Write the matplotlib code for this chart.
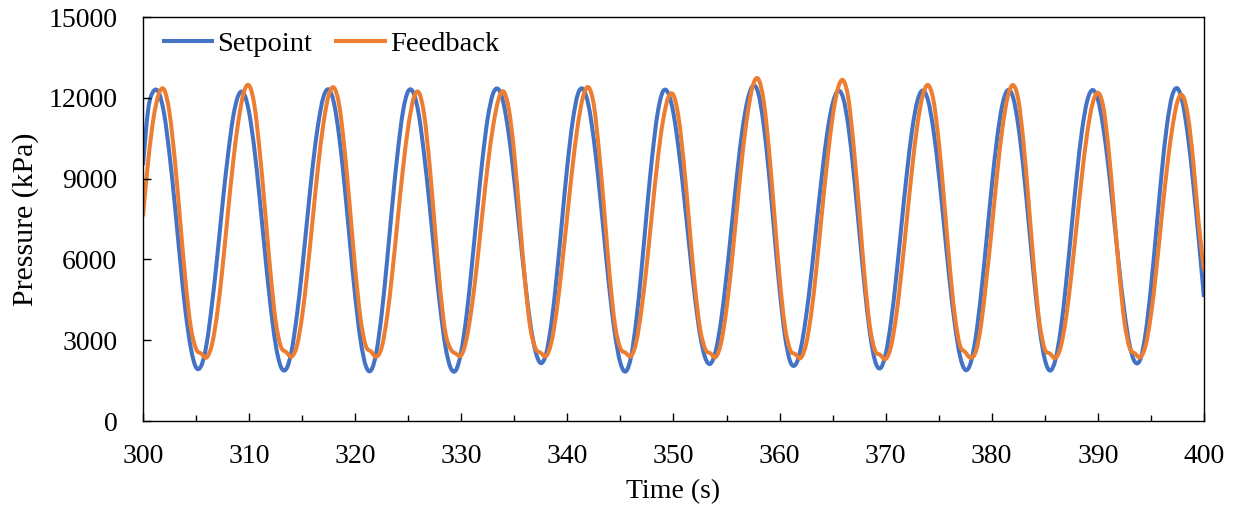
"""Pressure setpoint vs feedback, 300-400 s window."""

import matplotlib
import numpy as np

matplotlib.use("Agg")
import matplotlib.pyplot as plt
from matplotlib.lines import Line2D
from matplotlib.patches import PathPatch
from matplotlib.path import Path
from matplotlib.ticker import MultipleLocator

C_SET, C_FB = "#4472C4", "#ED7D31"

# samples every 0.5 s from 300 s to 400 s
t_start, t_step = 300.0, 0.5

setpoint_kpa = [
    9500, 11600, 12250, 12180, 11390, 9900, 8030, 5980, 4100, 2730,
    1990, 2060, 2870, 4320, 6100, 8060, 9840, 11290, 12100, 12170,
    11460, 10100, 8260, 6240, 4360, 2850, 2010, 1930, 2590, 3900,
    5630, 7580, 9470, 10990, 12020, 12310, 11810, 10540, 8750, 6650,
    4640, 3020, 2050, 1880, 2560, 3980, 5920, 8030, 9950, 11480,
    12250, 12180, 11370, 9890, 8070, 6080, 4260, 2780, 1970, 1890,
    2590, 3930, 5780, 7800, 9720, 11260, 12160, 12320, 11760, 10580,
    8930, 7060, 5230, 3640, 2580, 2150, 2500, 3640, 5390, 7450,
    9490, 11130, 12150, 12320, 11710, 10430, 8690, 6700, 4770, 3190,
    2150, 1840, 2380, 3750, 5660, 7840, 9840, 11410, 12230, 12180,
    11420, 10060, 8340, 6450, 4670, 3220, 2340, 2130, 2630, 3760,
    5400, 7290, 9180, 10820, 11940, 12450, 12170, 11010, 9190, 7020,
    4900, 3190, 2210, 2090, 2690, 3880, 5490, 7350, 9150, 10720,
    11780, 12260, 11990, 10900, 9170, 7110, 5050, 3320, 2230, 1960,
    2480, 3670, 5350, 7310, 9200, 10820, 11900, 12270, 11900, 10820,
    9210, 7280, 5320, 3650, 2430, 1900, 2140, 3140, 4730, 6690,
    8710, 10480, 11740, 12280, 12030, 10970, 9330, 7290, 5240, 3460,
    2290, 1870, 2270, 3390, 5090, 7080, 9070, 10770, 11890, 12290,
    11940, 10930, 9420, 7600, 5720, 4060, 2810, 2190, 2290, 3260,
    4930, 7020, 9140, 10940, 12070, 12350, 11800, 10550, 8790, 6780,
    4600,
]

feedback_kpa = [
    7600, 9700, 11260, 12160, 12300, 11440, 9700, 7460, 5230, 3500,
    2680, 2500, 2360, 2840, 4000, 5710, 7700, 9620, 11150, 12200,
    12460, 11730, 10020, 7850, 5580, 3720, 2760, 2560, 2390, 2780,
    3890, 5560, 7510, 9430, 11020, 12090, 12380, 11710, 10080, 7930,
    5660, 3820, 2790, 2580, 2390, 2730, 3840, 5500, 7450, 9350,
    10920, 11970, 12200, 11380, 9570, 7240, 4960, 3290, 2670, 2500,
    2440, 3050, 4260, 5880, 7740, 9510, 10940, 11930, 12230, 11540,
    9910, 7570, 5250, 3480, 2690, 2530, 2410, 2930, 4120, 5790,
    7660, 9490, 11030, 12070, 12390, 11720, 9960, 7700, 5330, 3540,
    2700, 2530, 2410, 2940, 4180, 5860, 7800, 9660, 11120, 12000,
    12100, 11220, 9480, 7270, 5080, 3450, 2670, 2510, 2380, 2920,
    4170, 5910, 7930, 9890, 11440, 12480, 12700, 11890, 10090, 7720,
    5340, 3520, 2640, 2480, 2340, 2850, 4030, 5760, 7750, 9660,
    11280, 12350, 12650, 11940, 10140, 7840, 5420, 3540, 2620, 2450,
    2300, 2760, 3910, 5580, 7490, 9400, 11020, 12100, 12475, 11920,
    10400, 8230, 5920, 3970, 2810, 2560, 2350, 2580, 3580, 5270,
    7130, 9140, 10860, 12030, 12475, 11940, 10300, 8010, 5610, 3650,
    2670, 2500, 2340, 2750, 3820, 5420, 7260, 9110, 10700, 11780,
    12190, 11690, 10140, 7920, 5590, 3700, 2710, 2510, 2370, 2800,
    3920, 5570, 7500, 9330, 10830, 11860, 12080, 11300, 9610, 7365,
    5600,
]

time_s = t_start + t_step * np.arange(len(setpoint_kpa))


def smooth_line(ax, x, y, color, lw):
    """Excel-style smoothed line: cubic Bezier segments through every sample."""
    x = np.asarray(x, float)
    y = np.asarray(y, float)
    px = np.concatenate([[x[0]], x, [x[-1]]])
    py = np.concatenate([[y[0]], y, [y[-1]]])
    verts = [(x[0], y[0])]
    codes = [Path.MOVETO]
    for i in range(len(x) - 1):
        j = i + 1
        c1 = (x[i] + (px[j + 1] - px[j - 1]) / 6, y[i] + (py[j + 1] - py[j - 1]) / 6)
        c2 = (x[i + 1] - (px[j + 2] - px[j]) / 6, y[i + 1] - (py[j + 2] - py[j]) / 6)
        verts += [c1, c2, (x[i + 1], y[i + 1])]
        codes += [Path.CURVE4] * 3
    patch = PathPatch(Path(verts, codes), fill=False, edgecolor=color, lw=lw,
                      joinstyle="round", capstyle="butt")
    ax.add_patch(patch)


plt.rcParams["font.family"] = ["Liberation Serif", "DejaVu Serif"]
plt.rcParams["font.size"] = 20

fig = plt.figure(figsize=(12.39, 5.05), dpi=100)
ax = fig.add_axes([0.1154, 0.1663, 0.8563, 0.800])

smooth_line(ax, time_s, setpoint_kpa, C_SET, 2.9)
smooth_line(ax, time_s, feedback_kpa, C_FB, 2.9)

ax.set_xlim(300, 400)
ax.set_ylim(0, 15000)
ax.xaxis.set_major_locator(MultipleLocator(10))
ax.xaxis.set_minor_locator(MultipleLocator(5))
ax.yaxis.set_major_locator(MultipleLocator(3000))
ax.tick_params(axis="x", which="major", direction="in", length=6, width=1.0, pad=16.5)
ax.tick_params(axis="x", which="minor", direction="in", length=4.5, width=1.0)
ax.tick_params(axis="y", which="major", direction="in", length=5.5, width=1.0, pad=18.5)
for s in ax.spines.values():
    s.set_linewidth(1.0)

ax.set_xlabel("Time (s)", labelpad=7)
ax.set_ylabel("Pressure (kPa)", labelpad=7, fontsize=21.5)

handles = [
    Line2D([], [], color=C_SET, lw=2.9, label="Setpoint"),
    Line2D([], [], color=C_FB, lw=2.9, label="Feedback"),
]
ax.legend(
    handles=handles,
    loc="upper left",
    bbox_to_anchor=(0.0195, 0.965),
    ncol=2,
    frameon=False,
    fontsize=20.5,
    borderpad=0,
    borderaxespad=0,
    handlelength=1.7,
    handletextpad=0.18,
    columnspacing=0.85,
)

fig.savefig("out.png", dpi=100)
